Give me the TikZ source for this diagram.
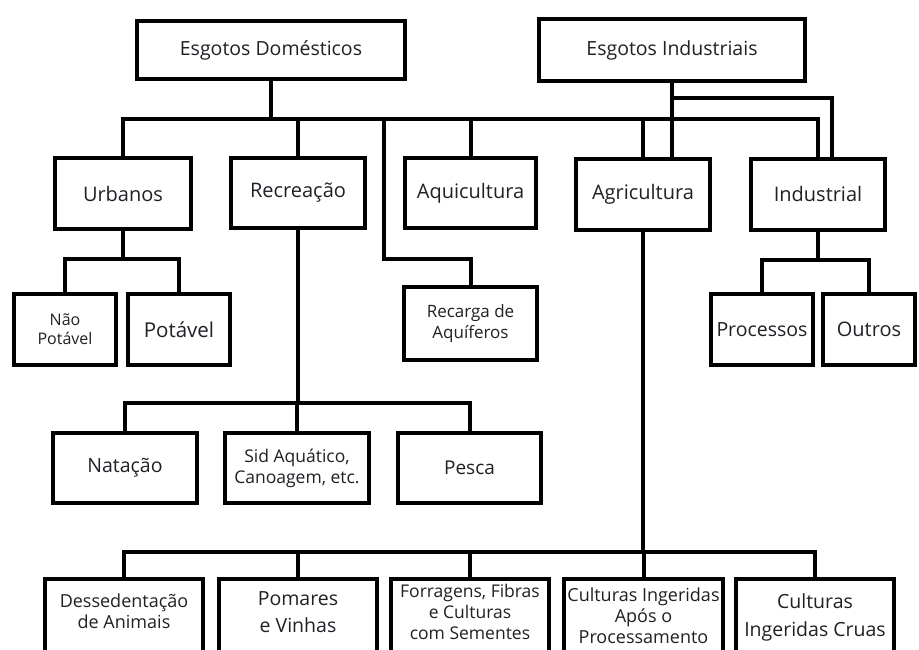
\documentclass[tikz,border=0pt]{standalone}
\usepackage{fontspec}
\setmainfont{Open Sans}
\definecolor{txt}{RGB}{32,32,38}
\tikzset{
  box/.style={draw=black, line width=4pt, fill=white, inner sep=1pt, align=center,
    text=txt, font=\fontsize{20}{24}\selectfont},
  lbl/.style={inner sep=0pt, align=center, text=txt},
  conn/.style={draw=black, line width=4pt, line join=miter},
  smalltxt/.style={font=\fontsize{17.5}{21}\selectfont},
  bottxt/.style={font=\fontsize{18}{21}\selectfont},
}
\begin{document}
\begin{tikzpicture}[x=1pt,y=-1pt]
\fill[white] (0,0) rectangle (919,650);
\useasboundingbox (0,0) rectangle (919,650);

% top level
\node[box, minimum width=268pt, minimum height=58pt, font=\fontsize{19.5}{23}\selectfont] (dom) at (271,50) {Esgotos Domésticos};
\node[box, minimum width=266pt, minimum height=62pt, font=\fontsize{19.5}{23}\selectfont] (ind) at (672,50) {Esgotos Industriais};

% second level
\node[box, minimum width=136pt, minimum height=71pt] (urb) at (123,193.5) {Urbanos};
\node[box, minimum width=134pt, minimum height=70pt] (rec) at (298,193) {Recreação};
\node[box, minimum width=131pt, minimum height=70pt] (aqu) at (470.5,193) {Aquicultura};
\node[box, minimum width=134pt, minimum height=71pt] (agr) at (643,194.5) {Agricultura};
\node[box, minimum width=134pt, minimum height=71pt] (indu) at (818,194.5) {Industrial};

% third level
\node[box, minimum width=102pt, minimum height=71pt, font=\fontsize{16}{19}\selectfont] (naop) at (65,329.5) {Não\\Potável};
\node[box, minimum width=102pt, minimum height=71pt, font=\fontsize{20.5}{24}\selectfont] (pot) at (179,329.5) {Potável};
\node[box, minimum width=133pt, minimum height=73pt, font=\fontsize{17}{21}\selectfont] (rech) at (470.5,323.5) {Recarga de\\Aquíferos};
\node[box, minimum width=102pt, minimum height=71pt, font=\fontsize{19.5}{23}\selectfont] (proc) at (762,329.5) {Processos};
\node[box, minimum width=92pt, minimum height=71pt] (outr) at (869,329.5) {Outros};

% recreation children
\node[box, minimum width=144pt, minimum height=70pt, font=\fontsize{19.5}{23}\selectfont] (nat) at (125,468) {Natação};
\node[box, minimum width=144pt, minimum height=70pt, smalltxt] (sid) at (297,468) {Sid Aquático,\\Canoagem, etc.};
\node[box, minimum width=143pt, minimum height=70pt, font=\fontsize{19}{23}\selectfont] (pes) at (469.5,468) {Pesca};

% agriculture children (boxes run past the bottom edge)
\node[box, minimum width=158pt, minimum height=74pt] (d1) at (124,616) {};
\node[box, minimum width=158pt, minimum height=74pt] (d2) at (298,616) {};
\node[box, minimum width=158pt, minimum height=74pt] (d3) at (470,616) {};
\node[box, minimum width=159pt, minimum height=74pt] (d4) at (643.5,616) {};
\node[box, minimum width=158pt, minimum height=74pt] (d5) at (815,616) {};
\node[lbl, bottxt, yshift=5pt] (t1) at (d1.center) {Dessedentação\\de Animais};
\node[lbl, font=\fontsize{19.5}{27}\selectfont, yshift=4pt] (t2) at (d2.center) {Pomares\\e Vinhas};
\node[lbl, smalltxt, yshift=4pt] (t3) at (d3.center) {Forragens, Fibras\\e Culturas\\com Sementes};
\node[lbl, bottxt] (t4) at (d4.center) {Culturas Ingeridas\\Após o\\Processamento};
\node[lbl, font=\fontsize{19.5}{28}\selectfont, yshift=-1pt] (t5) at (d5.center) {Culturas\\Ingeridas Cruas};

% junction coordinates
\coordinate (jd) at (dom.south |- 0,119);
\coordinate (rk) at (384,119);
\coordinate (rke) at (384,259);
\coordinate (ju) at (urb.south |- 0,259);
\coordinate (ji) at (indu.south |- 0,260);
\coordinate (jib) at (ind.south |- 0,98);
\coordinate (jie) at (832,98);
\coordinate (jr) at (rec.south |- 0,403);
\coordinate (ja) at (agr.south |- 0,552);

% domestic sewage connectors
\draw[conn] (dom.south) -- (jd);
\draw[conn] (urb.north) |- (jd) -| (indu.north);
\draw[conn] (rec.north) -- (rec.north |- jd);
\draw[conn] (aqu.north) -- (aqu.north |- jd);
\draw[conn] (agr.north) -- (agr.north |- jd);
\draw[conn] (rk) -- (rke) -| (rech.north);

% industrial sewage connectors
\draw[conn] (ind.south) -- (ind.south |- agr.north);
\draw[conn] (jib) -- (jie) -- (jie |- indu.north);

% urbanos
\draw[conn] (urb.south) -- (ju);
\draw[conn] (naop.north) |- (ju) -| (pot.north);

% industrial
\draw[conn] (indu.south) -- (ji);
\draw[conn] (proc.north) |- (ji) -| (outr.north);

% recreation
\draw[conn] (rec.south) -- (jr);
\draw[conn] (nat.north) |- (jr) -| (pes.north);
\draw[conn] (sid.north) -- (sid.north |- jr);

% agriculture
\draw[conn] (agr.south) -- (ja);
\draw[conn] (d1.north) |- (ja) -| (d5.north);
\draw[conn] (d2.north) -- (d2.north |- ja);
\draw[conn] (d3.north) -- (d3.north |- ja);
\draw[conn] (d4.north) -- (d4.north |- ja);
\end{tikzpicture}
\end{document}
